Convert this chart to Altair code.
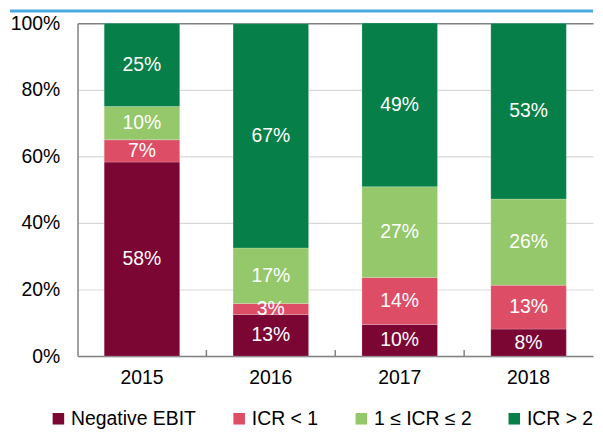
import altair as alt
import pandas as pd

years = ["2015", "2016", "2017", "2018"]
categories = ["Negative EBIT", "ICR < 1", "1 ≤ ICR ≤ 2", "ICR > 2"]
neg_ebit = [58.3, 12.5, 9.5, 8.1]
icr_lt1 = [6.7, 3.3, 14.1, 13.2]
icr_1_2 = [10.0, 16.7, 27.3, 25.9]
icr_gt2 = [25.0, 67.4, 49.2, 52.8]
colors = ["#7b0533", "#dd4d66", "#94c86a", "#067f48"]

series = [neg_ebit, icr_lt1, icr_1_2, icr_gt2]
rows = []
for ci, (cat, vals) in enumerate(zip(categories, series)):
    for y, v in zip(years, vals):
        rows.append({"year": y, "cat": cat, "order": ci, "value": v})
df = pd.DataFrame(rows)

FONT = "Liberation Sans"
FS = 19.5
W, H = 519, 335
step = W / 4
P_IN, P_OUT = 0.414, 0.207

x = alt.X("year:N", title=None,
          scale=alt.Scale(paddingInner=P_IN, paddingOuter=P_OUT),
          axis=alt.Axis(labelAngle=0, labelFontSize=FS, labelColor="#000000",
                        labelFont=FONT, ticks=False, labelPadding=13,
                        domainColor="#808080", domainWidth=1.5, grid=False))

bars = alt.Chart(df).mark_bar(stroke="#ffffff", strokeWidth=0.5, strokeOpacity=0.4).encode(
    x=x,
    y=alt.Y("value:Q", stack="zero", title=None,
            scale=alt.Scale(domain=[0, 100], nice=False),
            axis=alt.Axis(values=[0, 20, 40, 60, 80, 100],
                          labelExpr="datum.value + '%'",
                          labelFontSize=FS, labelFont=FONT, labelColor="#000000",
                          ticks=False, labelPadding=18,
                          domainColor="#808080", domainWidth=1.5,
                          grid=True,
                          gridColor={"condition": {"test": "datum.value === 100", "value": "#808080"},
                                     "value": "#d9d9d9"},
                          gridWidth={"condition": {"test": "datum.value === 100", "value": 1.5},
                                     "value": 1.2})),
    color=alt.Color("cat:N", sort=categories,
                    scale=alt.Scale(domain=categories, range=colors),
                    legend=alt.Legend(title=None, orient="none", direction="horizontal",
                                      legendX=-29, legendY=388,
                                      symbolType="square", symbolSize=135,
                                      symbolStrokeWidth=0,
                                      labelFontSize=FS, labelFont=FONT, labelColor="#000000",
                                      labelOffset=3, columnPadding=33, padding=0)),
    order=alt.Order("order:Q"),
)

labels = alt.Chart(df).transform_stack(
    stack="value", groupby=["year"], as_=["v0", "v1"],
    sort=[alt.SortField("order", order="ascending")]
).transform_calculate(
    mid="(datum.v0 + datum.v1) / 2",
    lab="round(datum.value) + '%'"
).mark_text(color="#ffffff", fontSize=FS, font=FONT, baseline="middle").encode(
    x=alt.X("year:N"),
    y=alt.Y("mid:Q"),
    text="lab:N",
)

tick_years = pd.DataFrame({"year": years[1:]})
ticks = alt.Chart(tick_years).mark_rule(
    color="#808080", strokeWidth=1.5, xOffset=-(P_IN * step / 2)
).encode(
    x=alt.X("year:N", bandPosition=0),
    y=alt.value(H), y2=alt.value(H - 6),
)

topline = alt.Chart(alt.Data(values=[{}])).mark_rule(color="#4aaae0", strokeWidth=3).encode(
    x=alt.value(-68), x2=alt.value(W), y=alt.value(-12.5)
)

chart = alt.layer(bars, labels, ticks, topline).properties(
    width=W, height=H, padding={"left": 0, "top": 0, "right": 0, "bottom": 0}
).configure_view(stroke=None)

chart.save("out.html", embed_options={"renderer": "svg", "actions": False})
